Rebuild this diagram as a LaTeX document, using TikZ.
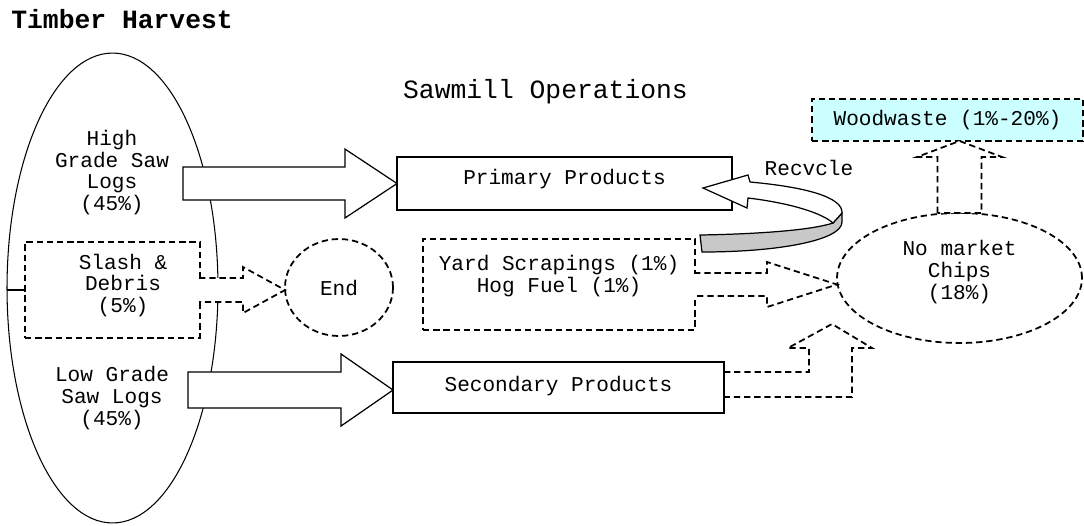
\documentclass[tikz,border=0pt]{standalone}
\usepackage{fontspec}
\setmainfont{Liberation Mono}
\definecolor{wastefill}{RGB}{204, 255, 255}
\definecolor{ribbongray}{RGB}{200, 200, 200}
\usetikzlibrary{calc, shapes.geometric, backgrounds}
\tikzset{
    every node/.style={font=\fontsize{12}{12.3}\selectfont},
    solidbox/.style={draw, line width=.7pt, inner sep=0pt, outer sep=0pt},
    dashline/.style={line width=1pt, dash pattern=on 3.6pt off 2.2pt},
    dashbox/.style={draw, dashline, inner sep=0pt, outer sep=0pt},
    % block arrows: shaft half width, head half width, head length
    fatarrow/.style n args={3}{
        fill=white, line width=.7pt,
        to path={let \p1=(\tikztostart), \p2=(\tikztotarget) in
            (\x1, {\y1+#1}) -- ({\x2-#3}, {\y1+#1}) -- ({\x2-#3}, {\y1+#2})
            -- (\x2, \y1) -- ({\x2-#3}, {\y1-#2}) -- ({\x2-#3}, {\y1-#1})
            -- (\x1, {\y1-#1}) -- cycle}
    },
    thinarrow/.style n args={3}{
        fill=white, dashline,
        to path={let \p1=(\tikztostart), \p2=(\tikztotarget) in
            (\x1, {\y1+#1}) -- ({\x2-#3}, {\y1+#1}) -- ({\x2-#3}, {\y1+#2})
            -- (\x2, \y1) -- ({\x2-#3}, {\y1-#2}) -- ({\x2-#3}, {\y1-#1})
            -- (\x1, {\y1-#1})}
    },
    liftarrow/.style n args={3}{
        fill=white, dashline,
        to path={let \p1=(\tikztostart), \p2=(\tikztotarget) in
            ({\x1-#1}, \y1) -- ({\x1-#1}, {\y2-#3}) -- ({\x1-#2}, {\y2-#3})
            -- (\x1, \y2) -- ({\x1+#2}, {\y2-#3}) -- ({\x1+#1}, {\y2-#3})
            -- ({\x1+#1}, \y1) -- cycle}
    },
}

\begin{document}
\begin{tikzpicture}[x=.02cm, y=-.02cm]
        \useasboundingbox (0, 0) rectangle (1084, 525);
        \coordinate (hgout) at (183, 183.5);
        \coordinate (lgout) at (188, 390);

        \node[anchor=base west, inner sep=0pt,
            font=\fontsize{15}{18}\selectfont\bfseries] (title) at (11, 28)
            {Timber Harvest};
        \node[font=\fontsize{15}{18}\selectfont] (sawmill) at (545.5, 92)
            {Sawmill Operations};

        % harvest side
        \node[ellipse, draw, line width=.6pt, outer sep=0pt,
            minimum width=4.22cm, minimum height=9.4cm] (harvest)
            at (112.5, 288) {};
        \node[align=center] (highlogs) at (112, 172.5)
            {High\\Grade Saw\\Logs\\(45\%)};
        \node[align=center] (lowlogs) at (112, 398)
            {Low Grade\\Saw Logs\\(45\%)};
        \node[dashbox, fill=white, align=center, minimum width=3.5cm,
            minimum height=1.92cm, text depth=8pt] (slash) at (112.5, 290)
            {\hspace{12pt}Slash \&\\\hspace{12pt}Debris\\\hspace{12pt}(5\%)};
        \draw[line width=.6pt] (slash.west -| harvest.west) -- (slash.west);

        % mill side
        \node[solidbox, minimum width=6.7cm, minimum height=1.06cm,
            text depth=7pt] (primary) at (564.5, 183.5) {Primary Products};
        \node[solidbox, minimum width=6.62cm, minimum height=1.02cm,
            text depth=4.5pt] (secondary) at (558.5, 387.5)
            {Secondary Products};
        \node[dashbox, align=center, minimum width=5.44cm,
            minimum height=1.82cm] (yard) at (559, 284.5)
            {Yard Scrapings (1\%)\\Hog Fuel (1\%)\\\mbox{}};
        \node[dashbox, ellipse, minimum width=2.16cm, minimum height=1.94cm]
            (endpt) at (339, 287.5) {End};
        \node[dashbox, ellipse, align=center, minimum width=4.9cm,
            minimum height=2.6cm, text depth=9.3pt] (chips) at (959.5, 278)
            {No market\\Chips\\(18\%)};
        \node[dashbox, fill=wastefill, minimum width=5.42cm,
            minimum height=.84cm] (waste) at (947.5, 120)
            {Woodwaste (1\%-20\%)};
        \node (recycle) at (809, 168) {Recvcle};

        \draw[fatarrow={9.4pt}{19.6pt}{29.6pt}] (hgout) to (primary.west);
        \draw[fatarrow={10.2pt}{20.5pt}{29.6pt}] (lgout) to (secondary.west);
        \draw[thinarrow={6.8pt}{13.1pt}{23.9pt}] ([xshift=-.5pt]slash.east)
            to (endpt.west);
        \draw[thinarrow={6.5pt}{12.8pt}{39.8pt}] ([xshift=-.5pt]yard.east)
            to (chips.west);
        \draw[liftarrow={12.5pt}{24.2pt}{9.1pt}] (chips.north) to (waste.south);
        \begin{scope}[on background layer]
            \draw[dashline, fill=white] ($(secondary.east)+(0, -15.5)$)
                -- ++(85, 0) -- ++(0, -24) -- ++(-21, 0) -- ++(44, -24)
                -- ++(40, 24) -- ++(-20, 0) -- ++(0, 49) -- ++(-128, 0);
        \end{scope}

        % recycle loop back into primary
        \draw[line width=.7pt, fill=ribbongray] (700, 235)
            .. controls (760, 234) and (812, 230) .. (833, 223) -- (842, 213)
            -- (842, 222) .. controls (842, 240) and (780, 252) .. (702, 252)
            -- cycle;
        \draw[line width=.7pt, fill=white] (703, 188) -- (748, 175) -- (750, 182)
            .. controls (805, 187) and (843, 197) .. (842, 213) -- (833, 223)
            .. controls (822, 213) and (790, 203) .. (748, 198) -- (747, 208)
            -- cycle;
    \end{tikzpicture}
\end{document}
